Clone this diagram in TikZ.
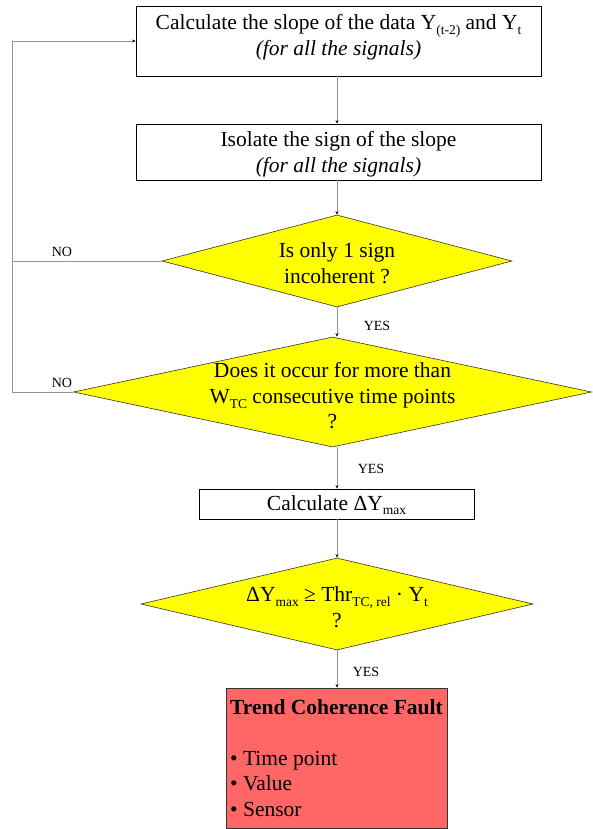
\documentclass[tikz,border=0pt]{standalone}
\usepackage{fontspec}
\setmainfont{Liberation Serif}
\usetikzlibrary{arrows.meta,shapes.geometric}
\newcommand\sbs[1]{\raisebox{-0.22em}{\fontsize{13.5}{13.5}\selectfont #1}}
\definecolor{faultred}{RGB}{255,102,102}
\definecolor{conngray}{RGB}{150,150,150}
\definecolor{diayellow}{RGB}{255,255,0}
\begin{document}
\begin{tikzpicture}[x=1pt,y=1pt,
  txt/.style={font=\fontsize{21.5}{25.5}\selectfont, align=center, inner sep=0pt},
  lbl/.style={font=\fontsize{14}{16}\selectfont, inner sep=0pt},
  stepbox/.style={draw=black, line width=0.8pt, fill=white, inner sep=0pt, rectangle},
  faultbox/.style={draw=black!80, line width=0.8pt, fill=faultred, inner sep=0pt, rectangle},
  decision/.style={diamond, draw=black!80, line width=0.6pt, fill=diayellow, inner sep=0pt, aspect=1},
  conn/.style={draw=conngray, line width=0.6pt, -{Stealth[length=3.5pt,width=3pt,color=black]}},
  plainconn/.style={draw=conngray, line width=0.6pt}]
\useasboundingbox (0,0) rectangle (592,-829);

\node[stepbox, minimum width=405, minimum height=70,
  label={[txt,yshift=4]center:Calculate the slope of the data Y\sbs{(t-2)} and Y\sbs{t}\\\textit{(for all the signals)}}]
  (b1) at (338.5,-41) {};
\node[stepbox, minimum width=405, minimum height=56,
  label={[txt,yshift=-2]center:Isolate the sign of the slope\\\textit{(for all the signals)}}]
  (b2) at (338.5,-152) {};
\node[decision, minimum width=350, minimum height=92,
  label={[txt,yshift=-2]center:Is only 1 sign\\incoherent ?}]
  (d1) at (337,-261) {};
\node[decision, minimum width=518, minimum height=110,
  label={[txt,yshift=-4]center:Does it occur for more than\\W\sbs{TC} consecutive time points\\?}]
  (d2) at (332.5,-392) {};
\node[stepbox, minimum width=275, minimum height=30,
  label={[txt,yshift=-1]center:Calculate ΔY\sbs{max}}]
  (b3) at (336.5,-504) {};
\node[decision, minimum width=392, minimum height=92,
  label={[txt,yshift=-3]center:ΔY\sbs{max} ≥ Thr\sbs{TC, rel} · Y\sbs{t}\\?}]
  (d3) at (337,-604) {};
\node[faultbox, minimum width=221, minimum height=140,
  label={[txt,align=left]center:\textbf{Trend Coherence Fault}\\[25.5pt]• Time point\\• Value\\• Sensor}]
  (f) at (336.5,-758) {};

\coordinate (lp) at (12,0);
\coordinate (vx) at (337,0);

\draw[conn] (b1.south -| vx) -- (b2.north -| vx);
\draw[conn] (b2.south -| vx) -- (d1.north);
\draw[conn] (d1.south) -- (d2.north -| vx);
\draw[conn] (d2.south -| vx) -- (b3.north -| vx);
\draw[conn] (b3.south -| vx) -- (d3.north);
\draw[conn] (d3.south) -- (f.north -| vx);
\draw[plainconn] (d1.west) -- (d1.west -| lp);
\draw[conn] (d2.west) -- (d2.west -| lp) |- (b1.west);

\node[lbl] (no1) at (62,-252) {NO};
\node[lbl] (no2) at (62,-383) {NO};
\node[lbl] (yes1) at (377,-326) {YES};
\node[lbl] (yes2) at (371,-469) {YES};
\node[lbl] (yes3) at (366,-672) {YES};
\end{tikzpicture}
\end{document}
